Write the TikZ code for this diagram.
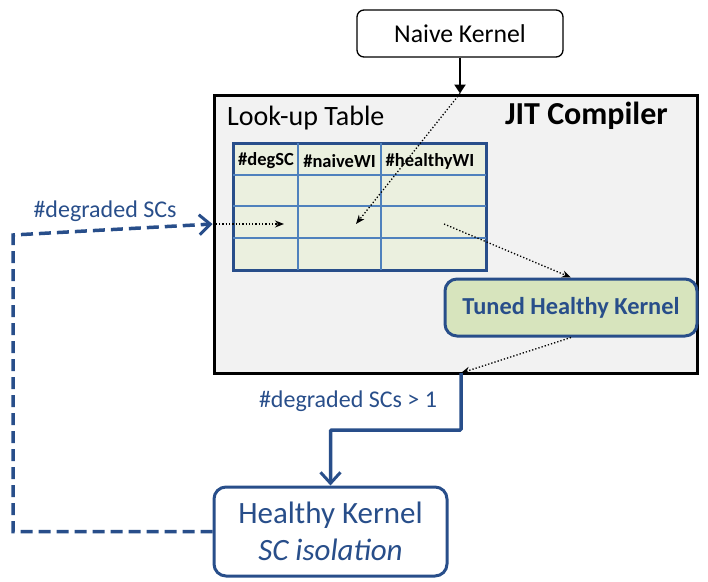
\documentclass[tikz,border=0pt]{standalone}
\usepackage{fontspec}
\setmainfont{Carlito}
\usetikzlibrary{arrows.meta}
\definecolor{dblue}{RGB}{40,78,138}
\definecolor{tblue}{RGB}{79,129,189}
\definecolor{tfill}{RGB}{235,240,223}
\definecolor{gfill}{RGB}{215,228,189}
\definecolor{jfill}{RGB}{242,242,242}
\tikzset{
  kbox/.style={draw=black, line width=1.3pt, rounded corners=7pt, fill=white, align=center, inner sep=0pt},
  bluebox/.style={draw=dblue, line width=3pt, rounded corners=12pt, align=center, inner sep=0pt, text=dblue},
  dotarrow/.style={dotted, line width=1.3pt, -{Stealth[length=9pt,width=7pt]}},
  bluetip/.style={-{Straight Barb[length=11pt,width=20pt,line width=3pt]}},
  bluelabel/.style={text=dblue, font=\fontsize{24}{28}\selectfont, inner sep=0pt},
  hdr/.style={font=\bfseries\fontsize{18.5}{21}\selectfont, inner sep=0pt}
}
\begin{document}
\begin{tikzpicture}[x=1pt,y=-1pt]
\useasboundingbox (0,0) rectangle (708,581);

% JIT compiler frame
\node[draw=black, line width=3pt, fill=jfill, minimum width=483pt, minimum height=278pt, inner sep=0pt] (jit) at (455.5,234) {};
\node[anchor=west, inner sep=0pt, font=\fontsize{28}{32}\selectfont] (lut) at (227,118) {Look-up Table};
\node[anchor=east, inner sep=0pt, font=\bfseries\fontsize{32}{36}\selectfont] (jitlbl) at (668,116) {JIT Compiler};

% look-up table
\node[draw=dblue, line width=3pt, fill=tfill, minimum width=253pt, minimum height=127pt, inner sep=0pt] (tbl) at (359.5,206.5) {};
\begin{scope}[draw=tblue, line width=1.2pt]
  \draw (298,143) -- (298,270);
  \draw (381,143) -- (381,270);
  \draw (233,175) -- (486,175);
  \draw (233,206) -- (486,206);
  \draw (233,238) -- (486,238);
\end{scope}
\node[hdr] (h1) at (266,161) {\#degSC};
\node[hdr] (h2) at (339.5,161) {\#naiveWI};
\node[hdr] (h3) at (430,161) {\#healthyWI};
\coordinate (c1) at (284,224);
\coordinate (c2) at (356,224);
\coordinate (c3) at (444,224);

% kernels
\node[kbox, minimum width=206pt, minimum height=47pt, font=\fontsize{25.7}{30}\selectfont] (naive) at (460,33.5) {Naive Kernel};
\node[bluebox, fill=gfill, minimum width=252pt, minimum height=57pt, font=\bfseries\fontsize{24.4}{28}\selectfont] (tuned) at (571,307.5) {Tuned Healthy Kernel};
\node[bluebox, fill=white, minimum width=233pt, minimum height=89pt, font=\fontsize{31}{37}\selectfont] (healthy) at (330.5,531.5) {Healthy Kernel\\\itshape SC isolation};

% connectors
\coordinate (jtop) at (jit.north -| naive.south);
\coordinate (jbot) at (461,373);
\coordinate (jleft) at (jit.west |- c1);
\draw[line width=2.5pt, -{Triangle[length=9pt,width=11pt]}] (naive.south) -- (jtop);
\draw[dotarrow] (jtop) -- (c2);
\draw[dotarrow] (jleft) -- (c1);
\draw[dotarrow] (c3) -- (tuned.north);
\draw[dotarrow] (tuned.south) -- (jbot);
\draw[draw=dblue, line width=3.5pt, bluetip, rounded corners=1pt] (jbot) -- (461,430) -- (330.5,430) -- (healthy.north);
\draw[draw=dblue, line width=3.5pt, dashed, dash pattern=on 12pt off 6pt, bluetip]
  (healthy.west) -- (13,531.5) -- (13,235) -- (jleft);

% labels
\node[bluelabel] (l1) at (105,211) {\#degraded SCs};
\node[bluelabel] (l2) at (348,401) {\#degraded SCs > 1};
\end{tikzpicture}
\end{document}
